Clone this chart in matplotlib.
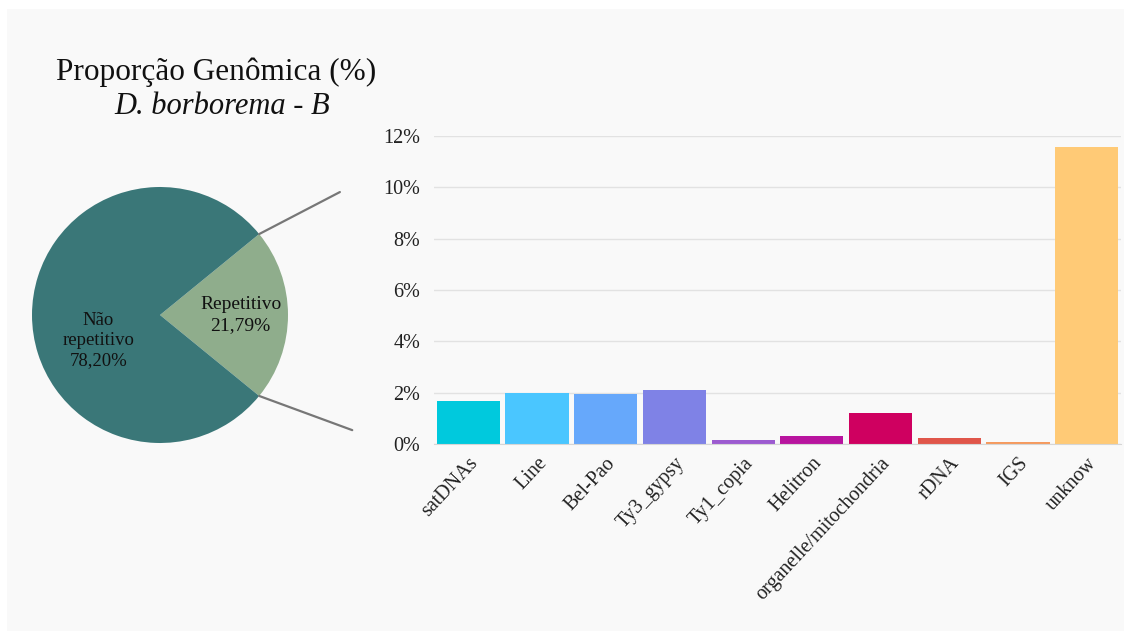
import numpy as np
import matplotlib.pyplot as plt
from matplotlib.patches import Rectangle, ConnectionPatch
from matplotlib.ticker import FuncFormatter

OUTPUT_PATH = "out.png"

# pie: genome fraction
pie_labels = ["Repetitivo", "Não\nrepetitivo"]
pie_values = [21.79, 78.20]
pie_text = ["21,79%", "78,20%"]
pie_colors = ["#8fad8c", "#3a7778"]

# bars: composition of the repetitive fraction (% of genome)
categories = ["satDNAs", "Line", "Bel-Pao", "Ty3_gypsy", "Ty1_copia", "Helitron",
              "organelle/mitochondria", "rDNA", "IGS", "unknow"]
values = [1.68, 1.97, 1.93, 2.12, 0.16, 0.30, 1.21, 0.22, 0.09, 11.58]
bar_colors = ["#00c9dd", "#4ac6ff", "#66a8fb", "#7f82e6", "#9c5bd0", "#b8149e",
              "#cf0060", "#e0564a", "#f59a5e", "#ffca76"]
y_ticks = [0, 2, 4, 6, 8, 10, 12]

W, H = 1131, 639


def main():
    plt.rcParams["font.family"] = ["Liberation Serif", "DejaVu Serif"]
    fig = plt.figure(figsize=(W / 100, H / 100), dpi=100, facecolor="white")

    # light panel behind everything
    fig.patches.append(Rectangle((7 / W, 1 - 631 / H), 1117 / W, 622 / H,
                                 transform=fig.transFigure, facecolor="#f9f9f9",
                                 edgecolor="none", zorder=-10))

    # pie
    cx, cy, r = 160, 315, 128
    ax_pie = fig.add_axes([(cx - r) / W, 1 - (cy + r) / H, 2 * r / W, 2 * r / H])
    ax_pie.set_facecolor("none")
    start = -pie_values[0] / 100 * 360 / 2
    ax_pie.pie(pie_values, colors=pie_colors, startangle=start, counterclock=True,
               radius=1.0, wedgeprops=dict(linewidth=0))
    ax_pie.set_xlim(-1, 1)
    ax_pie.set_ylim(-1, 1)
    ax_pie.set_aspect("equal")
    ax_pie.axis("off")

    ax_pie.text(0.63, 0.0, f"{pie_labels[0]}\n{pie_text[0]}", ha="center", va="center",
                fontsize=14, color="#111111", linespacing=1.3)
    ax_pie.text(-0.48, -0.2, f"{pie_labels[1]}\n{pie_text[1]}", ha="center", va="center",
                fontsize=13.5, color="#111111", linespacing=1.25)

    # bars
    ax = fig.add_axes([434 / W, 1 - 444 / H, 687 / W, 308 / H])
    ax.set_facecolor("none")
    x = np.arange(len(categories))
    ax.bar(x, values, width=0.92, color=bar_colors, linewidth=0, zorder=3)
    ax.set_xlim(-0.5, len(categories) - 0.5)
    ax.set_ylim(0, 12)
    ax.set_yticks(y_ticks)
    ax.yaxis.set_major_formatter(FuncFormatter(lambda v, _: f"{v:.0f}%"))
    ax.grid(axis="y", color="#e2e2e2", linewidth=1.0, zorder=0)
    ax.tick_params(axis="y", length=0, pad=10, labelsize=14.5, labelcolor="#222222")
    ax.set_xticks(x)
    ax.set_xticklabels(categories, rotation=47, ha="right", rotation_mode="anchor",
                       fontsize=14.5, color="#222222")
    ax.tick_params(axis="x", length=0, pad=7)
    for side in ("top", "right", "left"):
        ax.spines[side].set_visible(False)
    ax.spines["bottom"].set_color("#d6d6d6")
    ax.spines["bottom"].set_zorder(4)

    # connector lines from the repetitive wedge to the bar chart
    half = np.deg2rad(pie_values[0] / 100 * 360 / 2)
    for sign, end in ((1, (-0.137, 0.818)), (-1, (-0.119, 0.045))):
        con = ConnectionPatch(xyA=(np.cos(half), sign * np.sin(half)), coordsA=ax_pie.transData,
                              xyB=end, coordsB=ax.transAxes, color="#777777", linewidth=1.6)
        fig.add_artist(con)

    fig.text(216 / W, 1 - 72 / H, "Proporção Genômica (%)", ha="center", va="center",
             fontsize=22.5, color="#111111")
    fig.text(222 / W, 1 - 106 / H, "D. borborema - B", ha="center", va="center",
             fontsize=22, style="italic", color="#111111")

    fig.savefig(OUTPUT_PATH, dpi=100, facecolor=fig.get_facecolor())


if __name__ == "__main__":
    main()
